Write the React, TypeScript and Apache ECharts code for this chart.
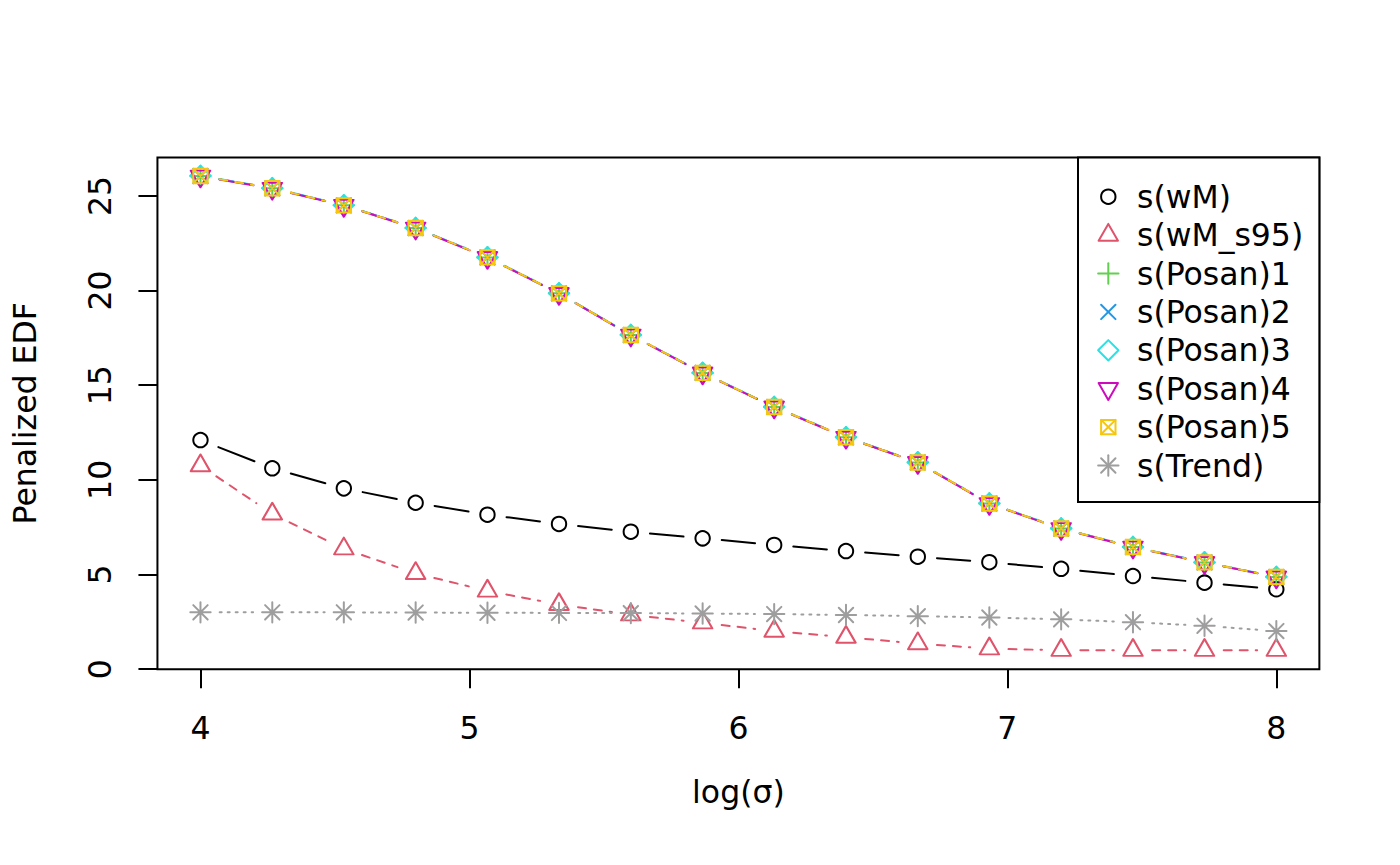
import React, { useEffect, useRef } from "react";
import * as echarts from "echarts";

// ---- data ----
const xValues = [4, 4.267, 4.533, 4.8, 5.067, 5.333, 5.6, 5.867, 6.133, 6.4, 6.667, 6.933, 7.2, 7.467, 7.733, 8];
const wM = [12.1, 10.61, 9.55, 8.79, 8.16, 7.67, 7.26, 6.91, 6.56, 6.24, 5.94, 5.65, 5.3, 4.92, 4.57, 4.22];
const wMs95 = [10.75, 8.2, 6.36, 5.06, 4.13, 3.42, 2.87, 2.45, 2.01, 1.69, 1.35, 1.08, 1.0, 1.0, 1.0, 1.0];
const posan1 = [26.05, 25.4, 24.5, 23.3, 21.75, 19.85, 17.65, 15.65, 13.85, 12.25, 10.92, 8.75, 7.43, 6.45, 5.64, 4.87];
const posan2 = [26.05, 25.4, 24.5, 23.3, 21.75, 19.85, 17.65, 15.65, 13.85, 12.25, 10.92, 8.75, 7.43, 6.45, 5.64, 4.87];
const posan3 = [26.06, 25.41, 24.51, 23.31, 21.76, 19.86, 17.66, 15.66, 13.86, 12.26, 10.93, 8.76, 7.44, 6.46, 5.65, 4.88];
const posan4 = [26.04, 25.39, 24.49, 23.29, 21.74, 19.84, 17.64, 15.64, 13.84, 12.24, 10.91, 8.74, 7.42, 6.44, 5.63, 4.86];
const posan5 = [26.05, 25.4, 24.5, 23.3, 21.75, 19.85, 17.65, 15.65, 13.85, 12.25, 10.92, 8.75, 7.43, 6.45, 5.64, 4.87];
const trend = [3.0, 3.0, 3.0, 2.99, 2.98, 2.97, 2.96, 2.94, 2.91, 2.86, 2.8, 2.73, 2.63, 2.48, 2.29, 2.01];

const seriesNames = ["s(wM)", "s(wM_s95)", "s(Posan)1", "s(Posan)2", "s(Posan)3", "s(Posan)4", "s(Posan)5", "s(Trend)"];
const seriesValues = [wM, wMs95, posan1, posan2, posan3, posan4, posan5, trend];
const xTicks = [4, 5, 6, 7, 8];
const yTicks = [0, 5, 10, 15, 20, 25];
const xLabel = "log(σ)";
const yLabel = "Penalized EDF";

// ---- styles ----
const colors = ["#000000", "#DF536B", "#61D04F", "#2297E6", "#28E2E5", "#CD0BBC", "#F5C710", "#9E9E9E"];
const dashes: (number[] | null)[] = [null, [8, 8], [2, 6], [2, 6, 8, 6], [14, 6], null, [8, 8], [2, 6]];
const FONT = "'DejaVu Sans', sans-serif";
const FS = 31.5;
const R = 7.2; // R symbol radius (0.375 * 0.5 * 38.4)
const R2 = R * Math.SQRT2;
const TRI_R = 1.55512 * R;
const TRI_Y = 0.77756 * R;
const TRI_X = 1.34677 * R;
const GAP = 19.2;

type Sym = { symbol: string; size: number[]; offset: number[] };
const symbols: Sym[] = [
  { symbol: "circle", size: [2 * R, 2 * R], offset: [0, 0] },
  { symbol: `path://M0 ${-TRI_R} L${TRI_X} ${TRI_Y} L${-TRI_X} ${TRI_Y} Z`, size: [2 * TRI_X, TRI_R + TRI_Y], offset: [0, -(TRI_R - TRI_Y) / 2] },
  { symbol: `path://M${-R2} 0 L${R2} 0 M0 ${-R2} L0 ${R2}`, size: [2 * R2, 2 * R2], offset: [0, 0] },
  { symbol: `path://M${-R} ${-R} L${R} ${R} M${-R} ${R} L${R} ${-R}`, size: [2 * R, 2 * R], offset: [0, 0] },
  { symbol: `path://M0 ${-R2} L${R2} 0 L0 ${R2} L${-R2} 0 Z`, size: [2 * R2, 2 * R2], offset: [0, 0] },
  { symbol: `path://M0 ${TRI_R} L${TRI_X} ${-TRI_Y} L${-TRI_X} ${-TRI_Y} Z`, size: [2 * TRI_X, TRI_R + TRI_Y], offset: [0, (TRI_R - TRI_Y) / 2] },
  { symbol: `path://M${-R} ${-R} L${R} ${-R} L${R} ${R} L${-R} ${R} Z M${-R} ${-R} L${R} ${R} M${-R} ${R} L${R} ${-R}`, size: [2 * R, 2 * R], offset: [0, 0] },
  { symbol: `path://M${-R} ${-R} L${R} ${R} M${-R} ${R} L${R} ${-R} M${-R2} 0 L${R2} 0 M0 ${-R2} L0 ${R2}`, size: [2 * R2, 2 * R2], offset: [0, 0] },
];

function legendSymbol(i: number, cx: number, cy: number, color: string): any[] {
  const st = { stroke: color, lineWidth: 2, fill: "none", lineJoin: "round", lineCap: "round" };
  const ln = (x1: number, y1: number, x2: number, y2: number) => ({ type: "line", shape: { x1, y1, x2, y2 }, style: st });
  switch (i) {
    case 0:
      return [{ type: "circle", shape: { cx, cy, r: R }, style: st }];
    case 1:
      return [{ type: "polygon", shape: { points: [[cx, cy - TRI_R], [cx + TRI_X, cy + TRI_Y], [cx - TRI_X, cy + TRI_Y]] }, style: st }];
    case 2:
      return [ln(cx - R2, cy, cx + R2, cy), ln(cx, cy - R2, cx, cy + R2)];
    case 3:
      return [ln(cx - R, cy - R, cx + R, cy + R), ln(cx - R, cy + R, cx + R, cy - R)];
    case 4:
      return [{ type: "polygon", shape: { points: [[cx, cy - R2], [cx + R2, cy], [cx, cy + R2], [cx - R2, cy]] }, style: st }];
    case 5:
      return [{ type: "polygon", shape: { points: [[cx, cy + TRI_R], [cx + TRI_X, cy - TRI_Y], [cx - TRI_X, cy - TRI_Y]] }, style: st }];
    case 6:
      return [
        { type: "rect", shape: { x: cx - R, y: cy - R, width: 2 * R, height: 2 * R }, style: st },
        ln(cx - R, cy - R, cx + R, cy + R),
        ln(cx - R, cy + R, cx + R, cy - R),
      ];
    default:
      return [
        ln(cx - R, cy - R, cx + R, cy + R),
        ln(cx - R, cy + R, cx + R, cy - R),
        ln(cx - R2, cy, cx + R2, cy),
        ln(cx, cy - R2, cx, cy + R2),
      ];
  }
}

function buildOption() {
  const series: any[] = [];
  seriesValues.forEach((vals, si) => {
    const segData: number[][] = [];
    for (let i = 0; i < xValues.length - 1; i++) {
      segData.push([xValues[i], vals[i], xValues[i + 1], vals[i + 1]]);
    }
    const color = colors[si];
    const dash = dashes[si];
    series.push({
      type: "custom",
      name: seriesNames[si] + " line",
      silent: true,
      data: segData,
      encode: { x: [0, 2], y: [1, 3] },
      renderItem: (_p: any, api: any) => {
        const p1 = api.coord([api.value(0), api.value(1)]);
        const p2 = api.coord([api.value(2), api.value(3)]);
        const dx = p2[0] - p1[0];
        const dy = p2[1] - p1[1];
        const d = Math.hypot(dx, dy);
        if (d <= 2 * GAP) return null;
        const f = GAP / d;
        const style: any = { stroke: color, lineWidth: 2, lineCap: "round", fill: "none" };
        if (dash) style.lineDash = dash;
        return {
          type: "line",
          shape: { x1: p1[0] + f * dx, y1: p1[1] + f * dy, x2: p2[0] - f * dx, y2: p2[1] - f * dy },
          style,
        };
      },
    });
    const sym = symbols[si];
    series.push({
      type: "scatter",
      name: seriesNames[si],
      silent: true,
      data: xValues.map((x, i) => [x, vals[i]]),
      symbol: sym.symbol,
      symbolSize: sym.size,
      symbolOffset: sym.offset,
      itemStyle: { color: "rgba(0,0,0,0)", borderColor: color, borderWidth: 2, borderJoin: "round", borderCap: "round", opacity: 1 },
    });
  });

  // legend drawn as graphic
  const lgLeft = 1078;
  const lgTop = 157.44;
  const lgRight = 1319.36;
  const lgBottom = 502;
  const rowStart = 196.7;
  const rowStep = 38.4;
  const symX = 1108.3;
  const textX = 1137;
  const legendChildren: any[] = [
    { type: "rect", shape: { x: lgLeft, y: lgTop, width: lgRight - lgLeft, height: lgBottom - lgTop }, style: { fill: "#fff", stroke: "#000", lineWidth: 2 } },
  ];
  seriesNames.forEach((name, i) => {
    const cy = rowStart + i * rowStep;
    legendChildren.push(...legendSymbol(i, symX, cy, colors[i]));
    legendChildren.push({
      type: "text",
      style: { x: textX, y: cy, text: name, fill: "#000", font: `${FS}px ${FONT}`, textAlign: "left", textVerticalAlign: "middle", verticalAlign: "middle" },
    });
  });

  const labelStyle = { fontSize: FS, fontFamily: FONT, color: "#000" };

  return {
    animation: false,
    backgroundColor: "#ffffff",
    grid: {
      left: 157.44,
      top: 157.44,
      right: 80.64,
      bottom: 195.84,
      show: true,
      borderColor: "#000",
      borderWidth: 2,
      backgroundColor: "rgba(0,0,0,0)",
      containLabel: false,
      outerBoundsMode: "none",
    },
    xAxis: {
      type: "value",
      min: 3.84,
      max: 8.16,
      axisLine: { show: false },
      splitLine: { show: false },
      axisTick: { show: true, length: 19, lineStyle: { color: "#000", width: 2 }, customValues: xTicks },
      axisLabel: { ...labelStyle, margin: 43, customValues: xTicks, formatter: (v: number) => String(v) },
      name: xLabel,
      nameLocation: "middle",
      nameGap: 107,
      nameTextStyle: labelStyle,
    },
    yAxis: {
      type: "value",
      min: 0,
      max: 27.03,
      axisLine: { show: false },
      splitLine: { show: false },
      axisTick: { show: true, length: 19, lineStyle: { color: "#000", width: 2 }, customValues: yTicks },
      axisLabel: { ...labelStyle, rotate: 90, margin: 41, customValues: yTicks, formatter: (v: number) => String(v) },
      name: yLabel,
      nameLocation: "middle",
      nameGap: 116,
      nameTextStyle: labelStyle,
    },
    series,
    graphic: [{ type: "group", z: 100, children: legendChildren }],
  };
}

export default function App() {
  const ref = useRef<HTMLDivElement>(null);
  useEffect(() => {
    if (!ref.current) return;
    const chart = echarts.init(ref.current, undefined, { renderer: "svg" });
    chart.setOption(buildOption() as any);
    return () => chart.dispose();
  }, []);
  return (
    <div
      ref={ref}
      style={{ position: "absolute", left: 0, top: 0, width: 1400, height: 865, background: "#fff" }}
    />
  );
}
